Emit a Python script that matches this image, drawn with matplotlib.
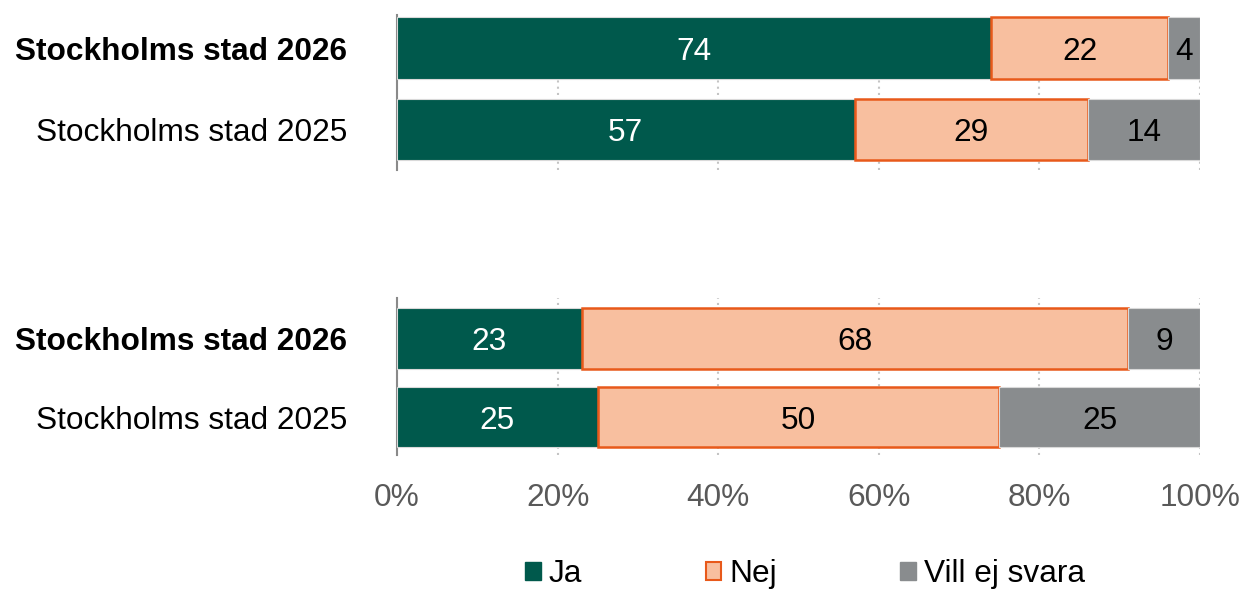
#! /usr/bin/env python3

# import libraries
import numpy as np
import matplotlib
matplotlib.use("Agg")
import matplotlib.pyplot as plt
from matplotlib.patches import Patch


# data
labels = ["Stockholms stad 2026", "Stockholms stad 2025"]
series = ["Ja", "Nej", "Vill ej svara"]
top_ja = [74, 57]
top_nej = [22, 29]
top_vill = [4, 14]
bot_ja = [23, 25]
bot_nej = [68, 50]
bot_vill = [9, 25]
xticks = [0, 20, 40, 60, 80, 100]
xticklabels = ["0%", "20%", "40%", "60%", "80%", "100%"]


# set matplotlib parameters
plt.rcParams["font.family"] = ["Liberation Sans", "DejaVu Sans"]
plt.rcParams["font.size"] = 22.8

col_ja = "#00594C"
col_nej = "#F8BF9F"
col_nej_edge = "#E8591A"
col_vill = "#898C8E"
col_grid = "#C4C4C4"
col_spine = "#8A8A8A"


# setup figure
fig = plt.figure(figsize=(12.45, 5.89), dpi=100)
W, H = 1245.0, 589.0
ax_top = fig.add_axes([397 / W, 1 - 170 / H, 803 / W, 155 / H])
ax_bot = fig.add_axes([397 / W, 1 - 455 / H, 803 / W, 157 / H])


def draw_group(ax, ja, nej, vill, ylim, height, show_x):
    ypos = np.array([1, 0])
    ja = np.array(ja, dtype=float)
    nej = np.array(nej, dtype=float)
    vill = np.array(vill, dtype=float)

    b1 = ax.barh(ypos, ja, height=height, color=col_ja, edgecolor="#D9D9D9", linewidth=0.8, zorder=3)
    b2 = ax.barh(ypos, nej, left=ja, height=height, color=col_nej, edgecolor=col_nej_edge, linewidth=1.8, zorder=3)
    b3 = ax.barh(ypos, vill, left=ja + nej, height=height, color=col_vill, edgecolor="#D9D9D9", linewidth=0.8, zorder=3)

    txt = []
    txt += ax.bar_label(b1, labels=[f"{v:.0f}" for v in ja], label_type="center", color="white")
    txt += ax.bar_label(b2, labels=[f"{v:.0f}" for v in nej], label_type="center", color="black")
    txt += ax.bar_label(b3, labels=[f"{v:.0f}" for v in vill], label_type="center", color="black")
    for t in txt:
        t.set_va("center_baseline")

    ax.set_xlim(0, 100)
    ax.set_ylim(ylim)
    ax.set_yticks(ypos)
    ax.set_yticklabels(labels)
    ax.get_yticklabels()[0].set_fontweight("bold")
    ax.tick_params(axis="y", length=0, pad=36)

    ax.set_xticks(xticks)
    if show_x:
        ax.set_xticklabels(xticklabels, color="#595959")
    else:
        ax.set_xticklabels([])
    ax.tick_params(axis="x", length=0, pad=20)

    ax.grid(axis="x", color=col_grid, linestyle=(0, (1.0, 2.0)), linewidth=1.5, zorder=0)
    ax.grid(axis="y", visible=False)
    for s in ["top", "right", "bottom"]:
        ax.spines[s].set_visible(False)
    ax.spines["left"].set_color(col_spine)
    ax.spines["left"].set_linewidth(1.5)
    ax.set_axisbelow(True)


draw_group(ax_top, top_ja, top_nej, top_vill, (-0.497, 1.405), 0.76, False)
draw_group(ax_bot, bot_ja, bot_nej, bot_vill, (-0.484, 1.516), 0.765, True)


# legend
handles = [
    Patch(facecolor=col_ja, edgecolor=col_ja),
    Patch(facecolor=col_nej, edgecolor=col_nej_edge, linewidth=1.5),
    Patch(facecolor=col_vill, edgecolor=col_vill),
]
fig.legend(handles, series, loc="center", bbox_to_anchor=(805 / W, 1 - 574 / H), ncol=3,
           frameon=False, handlelength=0.5, handleheight=0.5, handletextpad=0.25,
           columnspacing=3.9)

fig.savefig("out.png", dpi=100)
